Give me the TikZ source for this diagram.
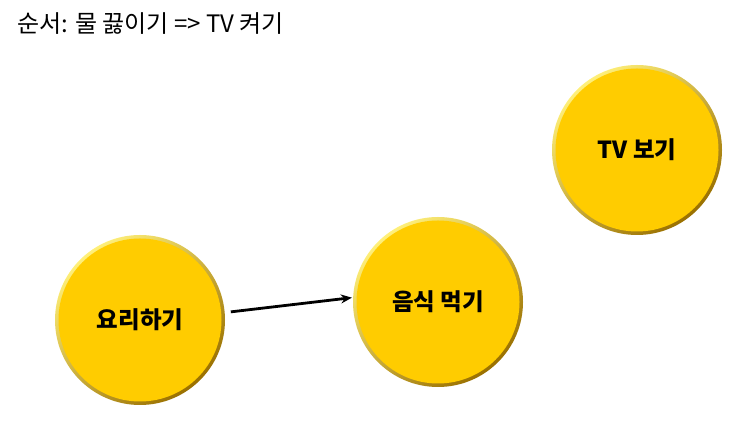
\documentclass[tikz,border=0pt]{standalone}
\usepackage{fontspec}
\setmainfont{Noto Sans CJK KR}
\usetikzlibrary{arrows.meta}
\definecolor{goldface}{HTML}{FFCC00}
\definecolor{goldlight}{HTML}{FFF07A}
\definecolor{golddark}{HTML}{9A7000}
\tikzset{
  coin/.style={circle, minimum size=170pt, inner sep=0pt,
    top color=goldlight, bottom color=golddark, shading angle=40,
    path picture={\fill[goldface] (path picture bounding box.center) circle (81.5pt);},
    font=\bfseries\fontsize{23.5pt}{26pt}\selectfont},
  flow/.style={line width=2.8pt, -{Stealth[length=11pt,width=9pt]}},
  titletext/.style={anchor=west, inner sep=0pt, font=\fontsize{24pt}{28pt}\selectfont}
}
\begin{document}
\begin{tikzpicture}[x=1pt,y=1pt]
\useasboundingbox (0,0) rectangle (736,443);
\node[titletext] (title) at (17,419) {순서: 물 끓이기 => TV 켜기};
\node[coin] (c1) at (140,123) {요리하기};
\node[coin] (c2) at (438,141) {음식 먹기};
\node[coin] (c3) at (637,293) {TV 보기};
\draw[flow, shorten <=6pt, shorten >=1pt] (c1.5.6) -- (c2.177);
\end{tikzpicture}
\end{document}
